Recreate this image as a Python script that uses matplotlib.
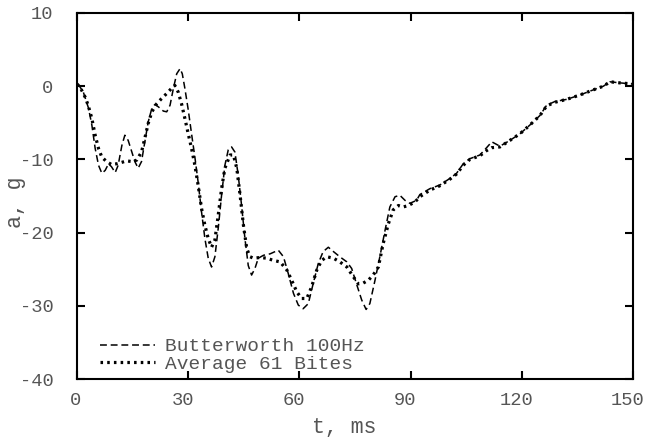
import matplotlib
matplotlib.use("Agg")
import matplotlib.pyplot as plt
from matplotlib.transforms import ScaledTranslation

# Butterworth 100Hz filtered curve (t in ms, a in g)
t_butter = [0, 0.8, 1.7, 3.1, 4.0, 4.9, 5.8, 6.7, 7.6, 8.5, 9.3, 10.3, 11.1, 12.1,
            12.9, 13.8, 14.8, 15.6, 16.5, 17.4, 18.3, 19.2, 20.2, 21.0, 21.9, 23.3,
            24.2, 25.1, 26.0, 26.9, 27.8, 28.4, 29.1, 30.0, 30.9, 31.8, 32.7, 33.6,
            34.5, 35.4, 36.3, 37.2, 38.1, 39.0, 39.9, 40.8, 41.7, 42.6, 43.5, 44.4,
            45.3, 46.2, 47.1, 48.0, 48.9, 50.3, 52.1, 54.3, 55.7, 57.0, 58.4, 59.7,
            61.0, 62.4, 63.7, 65.1, 66.4, 67.8, 69.2, 70.9, 72.8, 74.1, 75.4, 76.8,
            78.0, 79.0, 80.4, 81.7, 83.1, 84.4, 85.8, 87.1, 88.5, 89.8, 91.6, 92.5,
            95.2, 97.9, 100.6, 102.4, 104.2, 106.0, 108.7, 110.5, 111.9, 113.0,
            114.1, 116.8, 119.5, 122.2, 124.9, 126.7, 128.9, 132.1, 135.7, 139.3,
            142.0, 143.8, 146.5, 150.0]
a_butter = [0.3, -0.1, -0.8, -3.0, -5.3, -8.5, -10.8, -11.9, -11.5, -10.6, -11.0,
            -11.8, -10.8, -8.1, -6.7, -7.4, -9.0, -10.3, -11.2, -10.3, -7.6, -4.9,
            -3.0, -2.5, -2.8, -3.4, -3.5, -2.6, -0.3, 1.7, 2.4, 1.7, -0.3, -3.2,
            -6.5, -9.7, -13.2, -17.2, -20.8, -23.5, -24.7, -23.3, -19.4, -14.9,
            -10.8, -8.7, -8.3, -9.0, -12.2, -16.3, -20.8, -24.5, -25.8, -24.9,
            -23.5, -23.1, -22.9, -22.4, -23.3, -25.6, -28.3, -29.9, -30.4, -29.7,
            -27.0, -24.2, -22.6, -22.0, -22.6, -23.3, -24.0, -24.9, -27.0, -29.2,
            -30.5, -29.7, -26.5, -23.3, -19.7, -16.5, -15.1, -14.9, -15.6, -16.0,
            -15.6, -14.8, -14.0, -13.5, -12.6, -11.9, -10.6, -9.9, -9.4, -8.4,
            -7.6, -7.9, -8.2, -7.4, -6.5, -5.3, -4.0, -2.6, -2.1, -1.8, -1.2, -0.5,
            0.0, 0.6, 0.45, 0.3]

# Average of 61 bites
t_avg = [0, 0.8, 2.2, 3.0, 4.0, 4.9, 5.8, 6.7, 8.0, 9.3, 10.7, 12.1, 13.4, 14.8,
         16.1, 17.4, 18.3, 19.2, 20.2, 21.5, 22.8, 24.2, 25.5, 26.4, 27.3, 28.2,
         29.1, 30.0, 30.9, 31.8, 32.7, 33.6, 34.5, 35.4, 36.3, 37.2, 38.1, 39.0,
         39.9, 41.3, 42.2, 43.1, 44.0, 44.9, 45.8, 46.7, 47.6, 49.4, 51.2, 53.0,
         54.8, 56.6, 57.9, 59.3, 60.6, 62.0, 63.3, 64.7, 66.0, 67.4, 69.2, 70.9,
         72.8, 74.5, 75.9, 77.2, 78.6, 79.9, 81.3, 82.6, 84.0, 85.3, 86.7, 88.0,
         89.4, 91.2, 92.5, 95.2, 97.9, 100.6, 102.4, 104.2, 106.0, 108.7, 110.5,
         111.9, 114.1, 116.8, 119.5, 122.2, 124.9, 126.7, 128.9, 132.1, 135.7,
         139.3, 142.0, 143.8, 146.5, 150.0]
a_avg = [0.3, -0.1, -1.5, -2.6, -4.4, -6.7, -8.5, -9.7, -10.3, -10.7, -10.6, -10.4,
         -10.2, -10.3, -10.1, -9.0, -7.1, -5.1, -3.5, -2.4, -1.7, -1.0, -0.3, 0.1,
         -0.8, -2.4, -4.4, -6.5, -8.5, -10.8, -13.6, -16.7, -19.0, -20.8, -22.0,
         -21.0, -17.6, -14.0, -11.2, -9.4, -9.4, -11.2, -14.9, -19.0, -22.2, -23.3,
         -23.5, -23.4, -23.5, -23.8, -24.0, -25.1, -26.5, -28.1, -29.0, -29.0,
         -27.4, -25.1, -23.8, -23.3, -23.5, -24.0, -24.7, -26.0, -27.0, -26.9,
         -26.5, -25.8, -24.7, -21.5, -18.8, -16.9, -16.3, -16.5, -16.3, -15.8,
         -15.1, -14.2, -13.6, -12.7, -12.0, -10.8, -10.0, -9.5, -8.8, -8.4, -8.3,
         -7.4, -6.5, -5.3, -4.0, -2.7, -2.2, -1.8, -1.2, -0.5, 0.0, 0.6, 0.45, 0.3]

x_ticks = [0, 30, 60, 90, 120, 150]
x_labels = ["0", "30", "60", "90", "120", "150"]
y_ticks = [-40, -30, -20, -10, 0, 10]
y_labels = ["-40", "-30", "-20", "-10", "0", "10"]

mono = "Liberation Mono"
txt_color = "#555555"

fig = plt.figure(figsize=(6.45, 4.4), dpi=100)
ax = fig.add_axes([0.1194, 0.1386, 0.8620, 0.8319])

ax.plot(t_butter, a_butter, color="black", lw=1.1, linestyle=(0, (4.5, 2.5)),
        label="Butterworth 100Hz")
ax.plot(t_avg, a_avg, color="black", lw=2.3, linestyle=(0, (0.8, 1.3)),
        dash_capstyle="butt", label="Average 61 Bites")

ax.set_xlim(0, 150)
ax.set_ylim(-40, 10)
ax.set_xticks(x_ticks, x_labels)
ax.set_yticks(y_ticks, y_labels)
ax.tick_params(direction="in", length=6, width=1.5, top=True, right=True,
               labelsize=13.5, labelcolor=txt_color)
ax.tick_params(axis="x", pad=9)
ax.tick_params(axis="y", pad=17)
for lab in ax.get_xticklabels() + ax.get_yticklabels():
    lab.set_family(mono)
for lab, txt in zip(ax.get_xticklabels(), x_labels):
    dx = -2 if len(txt) == 1 else -5.5
    lab.set_transform(lab.get_transform() + ScaledTranslation(dx / 100, 0, fig.dpi_scale_trans))
for s in ax.spines.values():
    s.set_linewidth(1.5)

ax.set_xlabel("t, ms", family=mono, fontsize=15.5, color=txt_color)
ax.xaxis.set_label_coords(0.481, -0.105)
ax.set_ylabel("a, g", family=mono, fontsize=15.5, color=txt_color)
ax.yaxis.set_label_coords(-0.092, 0.484)

leg = ax.legend(loc="lower left", frameon=False, prop={"family": mono, "size": 14},
                handlelength=2.85, handletextpad=0.5, labelspacing=0.0,
                borderaxespad=0.0, borderpad=0.0,
                bbox_to_anchor=(0.0414, 0.0164))
for t in leg.get_texts():
    t.set_color(txt_color)

fig.savefig("out.png", dpi=100)
